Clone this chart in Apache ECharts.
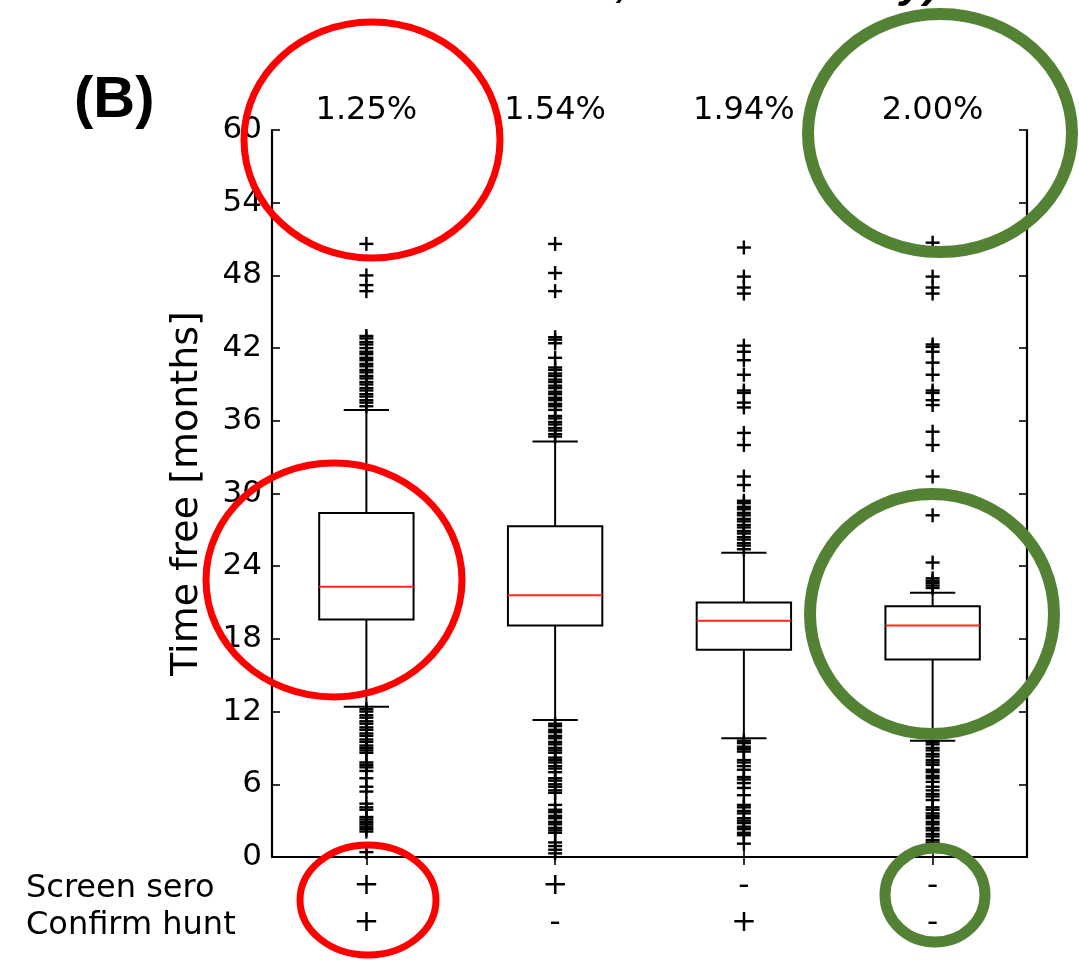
<!DOCTYPE html>
<html>
<head>
<meta charset="utf-8">
<script src="https://cdn.jsdelivr.net/npm/echarts@6/dist/echarts.min.js"></script>
<style>
  html, body { margin: 0; padding: 0; background: #ffffff; }
  #main { width: 1079px; height: 960px; }
</style>
</head>
<body>
<div id="main"></div>
<script>
// categories (top labels) and the two test rows under the axis
const categories = ["1.25%", "1.54%", "1.94%", "2.00%"];
const screenSero = ["+", "+", "-", "-"];
const confirmHunt = ["+", "-", "+", "-"];
const yTicks = [0, 6, 12, 18, 24, 30, 36, 42, 48, 54, 60];

// box stats, one value per category
const whiskerLow = [12.4, 11.3, 9.8, 9.6];
const q1 = [19.6, 19.1, 17.1, 16.3];
const median = [22.3, 21.6, 19.5, 19.1];
const q3 = [28.4, 27.3, 21.0, 20.7];
const whiskerHigh = [36.9, 34.3, 25.1, 21.8];

// fliers
const outliers125 = [50.6, 48.0, 47.2, 46.7,
  43.0, 42.8, 42.5, 42.3, 42.0, 41.7, 41.5, 41.2, 41.0, 40.7, 40.5, 40.2, 40.0, 39.7, 39.5, 39.2, 39.0, 38.7, 38.5, 38.2, 38.0, 37.7, 37.5, 37.2,
  12.2, 12.0, 11.7, 11.5, 11.2, 11.0, 10.7, 10.5, 10.2, 10.0, 9.7, 9.5, 9.2, 9.0, 8.8, 8.6,
  7.8, 7.6, 7.4, 7.1, 6.5, 5.8, 5.4, 4.4, 4.1, 3.9, 3.3, 3.1, 2.9, 2.7, 2.5, 2.3, 2.1, 0.4];
const outliers154 = [50.6, 48.2, 46.7,
  42.9, 42.7, 42.4, 41.2, 40.4, 40.2, 39.9, 39.7, 39.4, 39.2, 38.9, 38.7, 38.4, 38.2, 37.9, 37.7, 37.4, 37.2, 36.9,
  36.4, 36.2, 35.9, 35.7, 35.4, 35.2, 34.9, 34.7,
  11.0, 10.8, 10.5, 10.3, 10.0, 9.8, 9.5, 9.3, 9.0, 8.8, 8.6, 8.2, 8.0, 7.8, 7.5, 7.3, 7.0,
  6.5, 6.3, 6.0, 5.8, 5.5, 5.3, 4.3, 3.9, 3.7, 3.4, 3.2, 2.9, 2.7, 2.4, 2.2, 2.0, 1.2, 0.9, 0.6, 0.3];
const outliers194 = [50.3, 47.9, 47.0, 46.5, 42.2, 41.7, 41.0, 39.8, 38.5, 38.3, 37.5, 37.1, 35.0, 34.0, 31.4, 30.7,
  29.4, 29.2, 28.9, 28.7, 28.4, 28.2, 27.9, 27.7, 27.4, 27.2, 26.9, 26.7, 26.4, 26.2, 25.9, 25.7, 25.4,
  9.6, 9.4, 9.1, 8.9, 8.7, 8.0, 7.8, 7.5, 7.2, 6.6, 6.4, 6.1, 5.7, 5.1,
  4.3, 4.1, 3.8, 3.6, 3.2, 3.0, 2.8, 2.5, 2.3, 2.0, 1.8, 1.1];
const outliers200 = [50.7, 47.9, 47.0, 46.5, 42.3, 42.1, 41.7, 40.8, 39.8, 38.5, 38.3, 37.7, 37.3, 35.1, 34.0, 31.4, 28.2, 24.3,
  23.0, 22.8, 22.6, 22.4, 22.2,
  9.5, 9.3, 9.0, 8.8, 8.5, 8.3, 8.0, 7.8, 7.6, 7.2, 7.0, 6.7, 6.5, 6.2, 5.8, 5.5, 5.2, 5.0, 4.7,
  4.1, 3.9, 3.6, 3.4, 3.2, 2.9, 2.7, 2.4, 2.2, 1.9, 1.7, 1.4, 1.2];

const chart = echarts.init(document.getElementById("main"));

const boxData = categories.map(function (c, i) {
  return [i, whiskerLow[i], q1[i], median[i], q3[i], whiskerHigh[i]];
});
const flierData = [];
[outliers125, outliers154, outliers194, outliers200].forEach(function (arr, i) {
  arr.forEach(function (v) { flierData.push([i, v]); });
});

function renderBox(params, api) {
  const i = api.value(0);
  const band = api.size([1, 0])[0];
  const half = band * 0.25;
  const cap = band * 0.12;
  const pLow = api.coord([i, api.value(1)]);
  const pQ1 = api.coord([i, api.value(2)]);
  const pMed = api.coord([i, api.value(3)]);
  const pQ3 = api.coord([i, api.value(4)]);
  const pHigh = api.coord([i, api.value(5)]);
  const x = pQ1[0];
  const line = { stroke: "#000", lineWidth: 2 };
  return {
    type: "group",
    children: [
      { type: "line", shape: { x1: x, y1: pQ1[1], x2: x, y2: pLow[1] }, style: line },
      { type: "line", shape: { x1: x, y1: pQ3[1], x2: x, y2: pHigh[1] }, style: line },
      { type: "line", shape: { x1: x - cap, y1: pLow[1], x2: x + cap, y2: pLow[1] }, style: line },
      { type: "line", shape: { x1: x - cap, y1: pHigh[1], x2: x + cap, y2: pHigh[1] }, style: line },
      { type: "rect", shape: { x: x - half, y: pQ3[1], width: half * 2, height: pQ1[1] - pQ3[1] },
        style: { fill: "#fff", stroke: "#000", lineWidth: 2 } },
      { type: "line", shape: { x1: x - half, y1: pMed[1], x2: x + half, y2: pMed[1] },
        style: { stroke: "#ff2a1a", lineWidth: 2 } }
    ]
  };
}

function renderFlier(params, api) {
  const p = api.coord([api.value(0), api.value(1)]);
  const s = 7;
  const st = { stroke: "#000", lineWidth: 2.4 };
  return {
    type: "group",
    children: [
      { type: "line", shape: { x1: p[0] - s, y1: p[1], x2: p[0] + s, y2: p[1] }, style: st },
      { type: "line", shape: { x1: p[0], y1: p[1] - s, x2: p[0], y2: p[1] + s }, style: st }
    ]
  };
}

const axisLine = { show: true, lineStyle: { color: "#000", width: 2.2 } };
const tick = { show: true, inside: true, length: 8, lineStyle: { color: "#000", width: 1.6 } };

const option = {
  backgroundColor: "#ffffff",
  animation: false,
  grid: { left: 272, top: 130, width: 755, height: 727, show: false },
  xAxis: [
    {
      type: "category",
      data: categories,
      position: "bottom",
      axisLine: axisLine,
      axisTick: Object.assign({ alignWithLabel: true }, tick),
      axisLabel: {
        margin: 10,
        fontFamily: "DejaVu Sans",
        fontSize: 31,
        lineHeight: 37,
        color: "#000",
        formatter: function (v, i) { return screenSero[i] + "\n" + confirmHunt[i]; }
      },
      splitLine: { show: false }
    },
    {
      type: "category",
      data: categories,
      position: "top",
      axisLine: axisLine,
      axisTick: Object.assign({ alignWithLabel: true }, tick),
      axisLabel: { margin: 3, fontFamily: "DejaVu Sans", fontSize: 32, color: "#000" },
      splitLine: { show: false }
    }
  ],
  yAxis: [
    {
      type: "value",
      min: yTicks[0],
      max: yTicks[yTicks.length - 1],
      interval: 6,
      position: "left",
      name: "Time free [months]",
      nameLocation: "middle",
      nameRotate: 90,
      nameGap: 66,
      nameTextStyle: { fontFamily: "DejaVu Sans", fontSize: 38, color: "#000" },
      axisLine: axisLine,
      axisTick: tick,
      axisLabel: { margin: 10, fontFamily: "DejaVu Sans", fontSize: 31, color: "#000" },
      splitLine: { show: false }
    },
    {
      type: "value",
      min: yTicks[0],
      max: yTicks[yTicks.length - 1],
      interval: 6,
      position: "right",
      axisLine: axisLine,
      axisTick: tick,
      axisLabel: { show: false },
      splitLine: { show: false }
    }
  ],
  series: [
    {
      type: "custom",
      xAxisIndex: 0,
      yAxisIndex: 0,
      renderItem: renderBox,
      data: boxData,
      z: 2
    },
    {
      type: "custom",
      xAxisIndex: 0,
      yAxisIndex: 0,
      renderItem: renderFlier,
      data: flierData,
      z: 3
    }
  ],
  graphic: [
    { type: "text", left: 26, top: 873, style: { text: "Screen sero", font: "32px 'DejaVu Sans'", fill: "#000" } },
    { type: "text", left: 26, top: 910, style: { text: "Confirm hunt", font: "32px 'DejaVu Sans'", fill: "#000" } },
    { type: "text", left: 74, top: 72, style: { text: "(B)", font: "bold 58px 'Liberation Sans'", fill: "#000" } },
    // descenders of a title cut off at the top edge
    { type: "text", x: 616, y: -38, style: { text: ",", font: "bold italic 44px 'Liberation Sans'", fill: "#000" } },
    { type: "text", x: 900, y: -37, style: { text: "y)", font: "bold italic 44px 'Liberation Sans'", fill: "#000" } },
    // hand-drawn highlight rings
    { type: "ellipse", z: 100, shape: { cx: 372, cy: 140, rx: 128, ry: 118 }, style: { fill: "none", stroke: "#ff0000", lineWidth: 7 } },
    { type: "ellipse", z: 100, shape: { cx: 334, cy: 580, rx: 128, ry: 117 }, style: { fill: "none", stroke: "#ff0000", lineWidth: 7 } },
    { type: "ellipse", z: 100, shape: { cx: 368, cy: 900, rx: 68, ry: 55 }, style: { fill: "none", stroke: "#ff0000", lineWidth: 7 } },
    { type: "ellipse", z: 100, shape: { cx: 940, cy: 133, rx: 132, ry: 119 }, style: { fill: "none", stroke: "#548235", lineWidth: 12 } },
    { type: "ellipse", z: 100, shape: { cx: 932, cy: 614, rx: 122, ry: 120 }, style: { fill: "none", stroke: "#548235", lineWidth: 12 } },
    { type: "ellipse", z: 100, shape: { cx: 935, cy: 895, rx: 50, ry: 47 }, style: { fill: "none", stroke: "#548235", lineWidth: 11 } }
  ]
};

chart.setOption(option);
</script>
</body>
</html>
